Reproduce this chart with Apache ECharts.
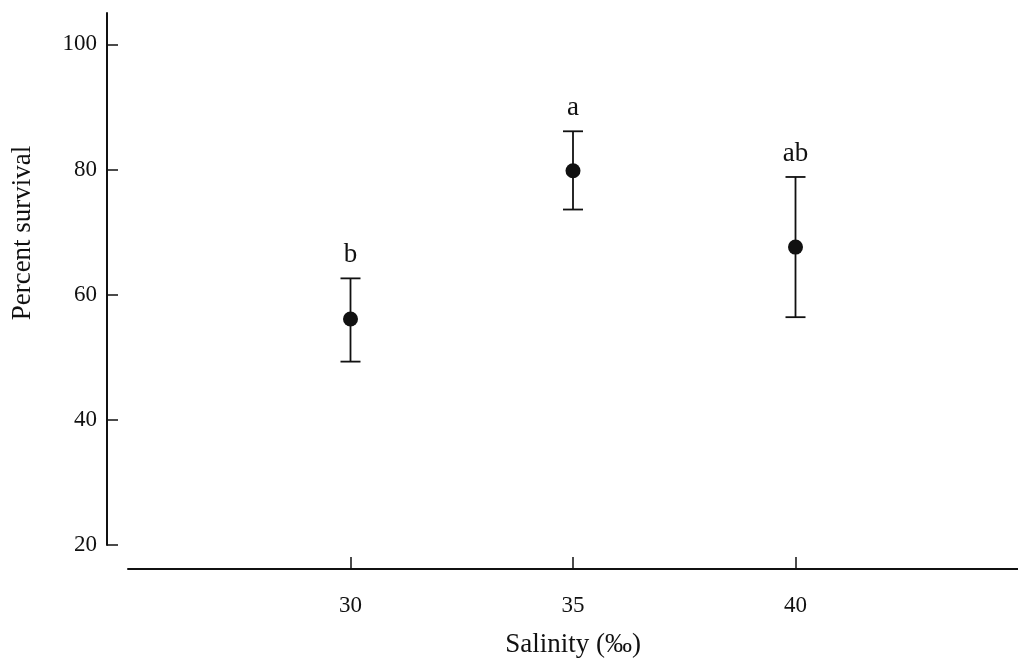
<!DOCTYPE html>
<html>
<head>
<meta charset="utf-8">
<script src="https://cdn.jsdelivr.net/npm/echarts@6/dist/echarts.min.js"></script>
<style>html,body{margin:0;padding:0;background:#fff;}#chart{width:1018px;height:663px;}</style>
</head>
<body>
<div id="chart"></div>
<script>
// Data
const salinity = [30, 35, 40];
const meanSurvival = [56.1, 79.8, 67.6];
const upperBound = [62.6, 86.1, 78.8];
const lowerBound = [49.3, 73.6, 56.4];
const groupLetters = ['b', 'a', 'ab'];
const xTicks = [30, 35, 40];
const yTicks = [20, 40, 60, 80, 100];

const FONT = 'Liberation Serif';
const INK = '#111';

const errData = salinity.map((s, i) => [s, lowerBound[i], upperBound[i], groupLetters[i]]);
const meanData = salinity.map((s, i) => [s, meanSurvival[i]]);

const chart = echarts.init(document.getElementById('chart'), null, {renderer: 'canvas'});
chart.setOption({
  animation: false,
  backgroundColor: '#fff',
  grid: {left: 128, right: 0, top: 13, bottom: 117, containLabel: false},
  xAxis: {
    type: 'value', min: 25, max: 45, offset: 24,
    name: 'Salinity (‰)', nameLocation: 'middle', nameGap: 62,
    nameTextStyle: {fontFamily: FONT, fontSize: 27, color: INK},
    axisLine: {show: true, onZero: false, lineStyle: {color: INK, width: 2}},
    axisTick: {show: true, inside: true, length: 12, customValues: xTicks, lineStyle: {color: INK, width: 1.5}},
    axisLabel: {customValues: xTicks, fontFamily: FONT, fontSize: 23, color: INK, margin: 25},
    splitLine: {show: false}
  },
  yAxis: {
    type: 'value', min: 20, max: 105, offset: 21,
    name: 'Percent survival', nameLocation: 'middle', nameGap: 71, nameRotate: 90,
    nameTextStyle: {fontFamily: FONT, fontSize: 27, color: INK, padding: [0, 0, 0, 92]},
    axisLine: {show: true, onZero: false, lineStyle: {color: INK, width: 2}},
    axisTick: {show: true, inside: true, length: 11, customValues: yTicks, lineStyle: {color: INK, width: 1.5}},
    axisLabel: {customValues: yTicks, fontFamily: FONT, fontSize: 23, color: INK, margin: 10},
    splitLine: {show: false}
  },
  series: [
    {
      type: 'custom',
      data: errData,
      renderItem: function (params, api) {
        const x = api.value(0);
        const lo = api.coord([x, api.value(1)]);
        const hi = api.coord([x, api.value(2)]);
        const hw = 10;
        const st = {stroke: INK, lineWidth: 1.8};
        return {
          type: 'group',
          children: [
            {type: 'line', shape: {x1: lo[0], y1: lo[1], x2: hi[0], y2: hi[1]}, style: st},
            {type: 'line', shape: {x1: lo[0] - hw, y1: lo[1], x2: lo[0] + hw, y2: lo[1]}, style: st},
            {type: 'line', shape: {x1: hi[0] - hw, y1: hi[1], x2: hi[0] + hw, y2: hi[1]}, style: st},
            {type: 'text', x: hi[0], y: hi[1] - 10,
             style: {text: api.value(3), fontFamily: FONT, fontSize: 27, fill: INK, align: 'center', verticalAlign: 'bottom'}}
          ]
        };
      },
      z: 2
    },
    {
      type: 'scatter',
      data: meanData,
      symbol: 'circle',
      symbolSize: 15,
      itemStyle: {color: INK, opacity: 1},
      z: 3
    }
  ]
});
</script>
</body>
</html>
